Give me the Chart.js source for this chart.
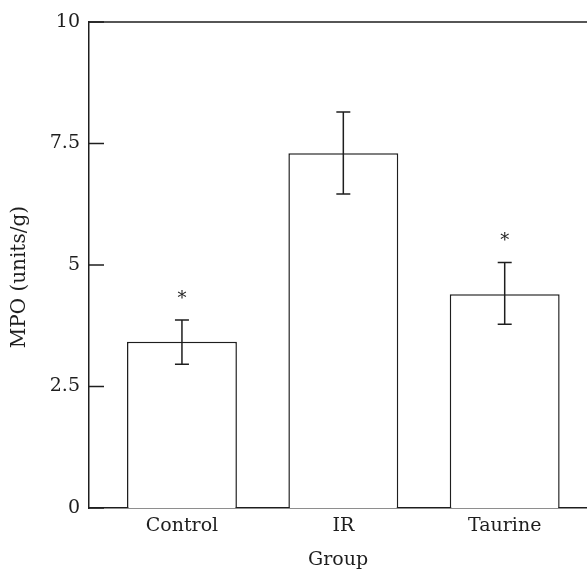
<!DOCTYPE html>
<html>
<head>
<meta charset="utf-8">
<script src="https://cdn.jsdelivr.net/npm/chart.js@4.4.0/dist/chart.umd.min.js"></script>
<style>
html,body{margin:0;padding:0;background:#fff;overflow:hidden;}
#wrap{width:587px;height:571px;position:relative;}
</style>
</head>
<body>
<div id="wrap"><canvas id="c"></canvas></div>
<script>
const categories = ["Control", "IR", "Taurine"];
const means = [3.42, 7.30, 4.40];
const errLow = [2.96, 6.46, 3.78];
const errHigh = [3.87, 8.15, 5.05];
const significant = [true, false, true];
const yTicks = [0, 2.5, 5, 7.5, 10];
const yTitle = "MPO (units/g)";
const xTitle = "Group";

const INK = "#1e1e1e";
const FONT = "'DejaVu Serif', serif";

const decor = {
  id: "decor",
  afterDatasetsDraw(chart) {
    const ctx = chart.ctx;
    const a = chart.chartArea;
    const xs = chart.scales.x, ys = chart.scales.y;
    ctx.save();
    ctx.strokeStyle = INK;
    ctx.lineWidth = 1.5;
    // top frame line
    ctx.beginPath();
    ctx.moveTo(a.left, a.top);
    ctx.lineTo(a.right, a.top);
    ctx.stroke();
    // inward y ticks
    yTicks.forEach(v => {
      const py = ys.getPixelForValue(v);
      ctx.beginPath();
      ctx.moveTo(a.left, py);
      ctx.lineTo(a.left + 15, py);
      ctx.stroke();
    });
    // error bars
    categories.forEach((c, i) => {
      const px = xs.getPixelForValue(i + 1);
      const lo = ys.getPixelForValue(errLow[i]);
      const hi = ys.getPixelForValue(errHigh[i]);
      ctx.beginPath();
      ctx.moveTo(px, lo); ctx.lineTo(px, hi);
      ctx.moveTo(px - 7, lo); ctx.lineTo(px + 7, lo);
      ctx.moveTo(px - 7, hi); ctx.lineTo(px + 7, hi);
      ctx.stroke();
      if (significant[i]) {
        ctx.fillStyle = INK;
        ctx.font = "18px " + FONT;
        ctx.textAlign = "center";
        ctx.textBaseline = "middle";
        ctx.fillText("*", px, hi - 21);
      }
    });
    // y axis title
    ctx.fillStyle = INK;
    ctx.font = "20px " + FONT;
    ctx.textAlign = "center";
    ctx.textBaseline = "middle";
    ctx.translate(20, ys.getPixelForValue(4.75));
    ctx.rotate(-Math.PI / 2);
    ctx.fillText(yTitle, 0, 0);
    ctx.restore();
  }
};

new Chart(document.getElementById("c"), {
  type: "bar",
  data: {
    datasets: [{
      data: means.map((v, i) => ({ x: i + 1, y: v })),
      backgroundColor: "#ffffff",
      borderColor: INK,
      borderWidth: 1.5,
      barPercentage: 0.681,
      categoryPercentage: 1.0
    }]
  },
  options: {
    responsive: true,
    maintainAspectRatio: false,
    animation: false,
    layout: { padding: { left: 0, right: 0, top: 22, bottom: 0 } },
    plugins: { legend: { display: false }, tooltip: { enabled: false } },
    scales: {
      x: {
        type: "linear",
        offset: false,
        min: 0.424,
        max: 3.51,
        afterBuildTicks(s) { s.ticks = categories.map((c, i) => ({ value: i + 1 })); },
        afterFit(s) { s.height = 63; },
        ticks: {
          color: INK,
          font: { family: FONT, size: 19 },
          padding: 7,
          callback: (v) => categories[v - 1] || ""
        },
        grid: { display: false, drawTicks: false },
        border: { display: true, color: INK, width: 1.5 },
        title: {
          display: true, text: xTitle, color: INK,
          font: { family: FONT, size: 19 },
          padding: { top: 0, bottom: 0 }
        }
      },
      y: {
        type: "linear",
        min: 0,
        max: 10,
        afterBuildTicks(s) { s.ticks = yTicks.map(v => ({ value: v })); },
        afterFit(s) { s.width = 89; },
        ticks: {
          color: INK,
          font: { family: FONT, size: 19 },
          padding: 9,
          callback: (v) => String(v)
        },
        grid: { display: false, drawTicks: false },
        border: { display: true, color: INK, width: 1.5 },
        title: { display: false }
      }
    }
  },
  plugins: [decor]
});
</script>
</body>
</html>
